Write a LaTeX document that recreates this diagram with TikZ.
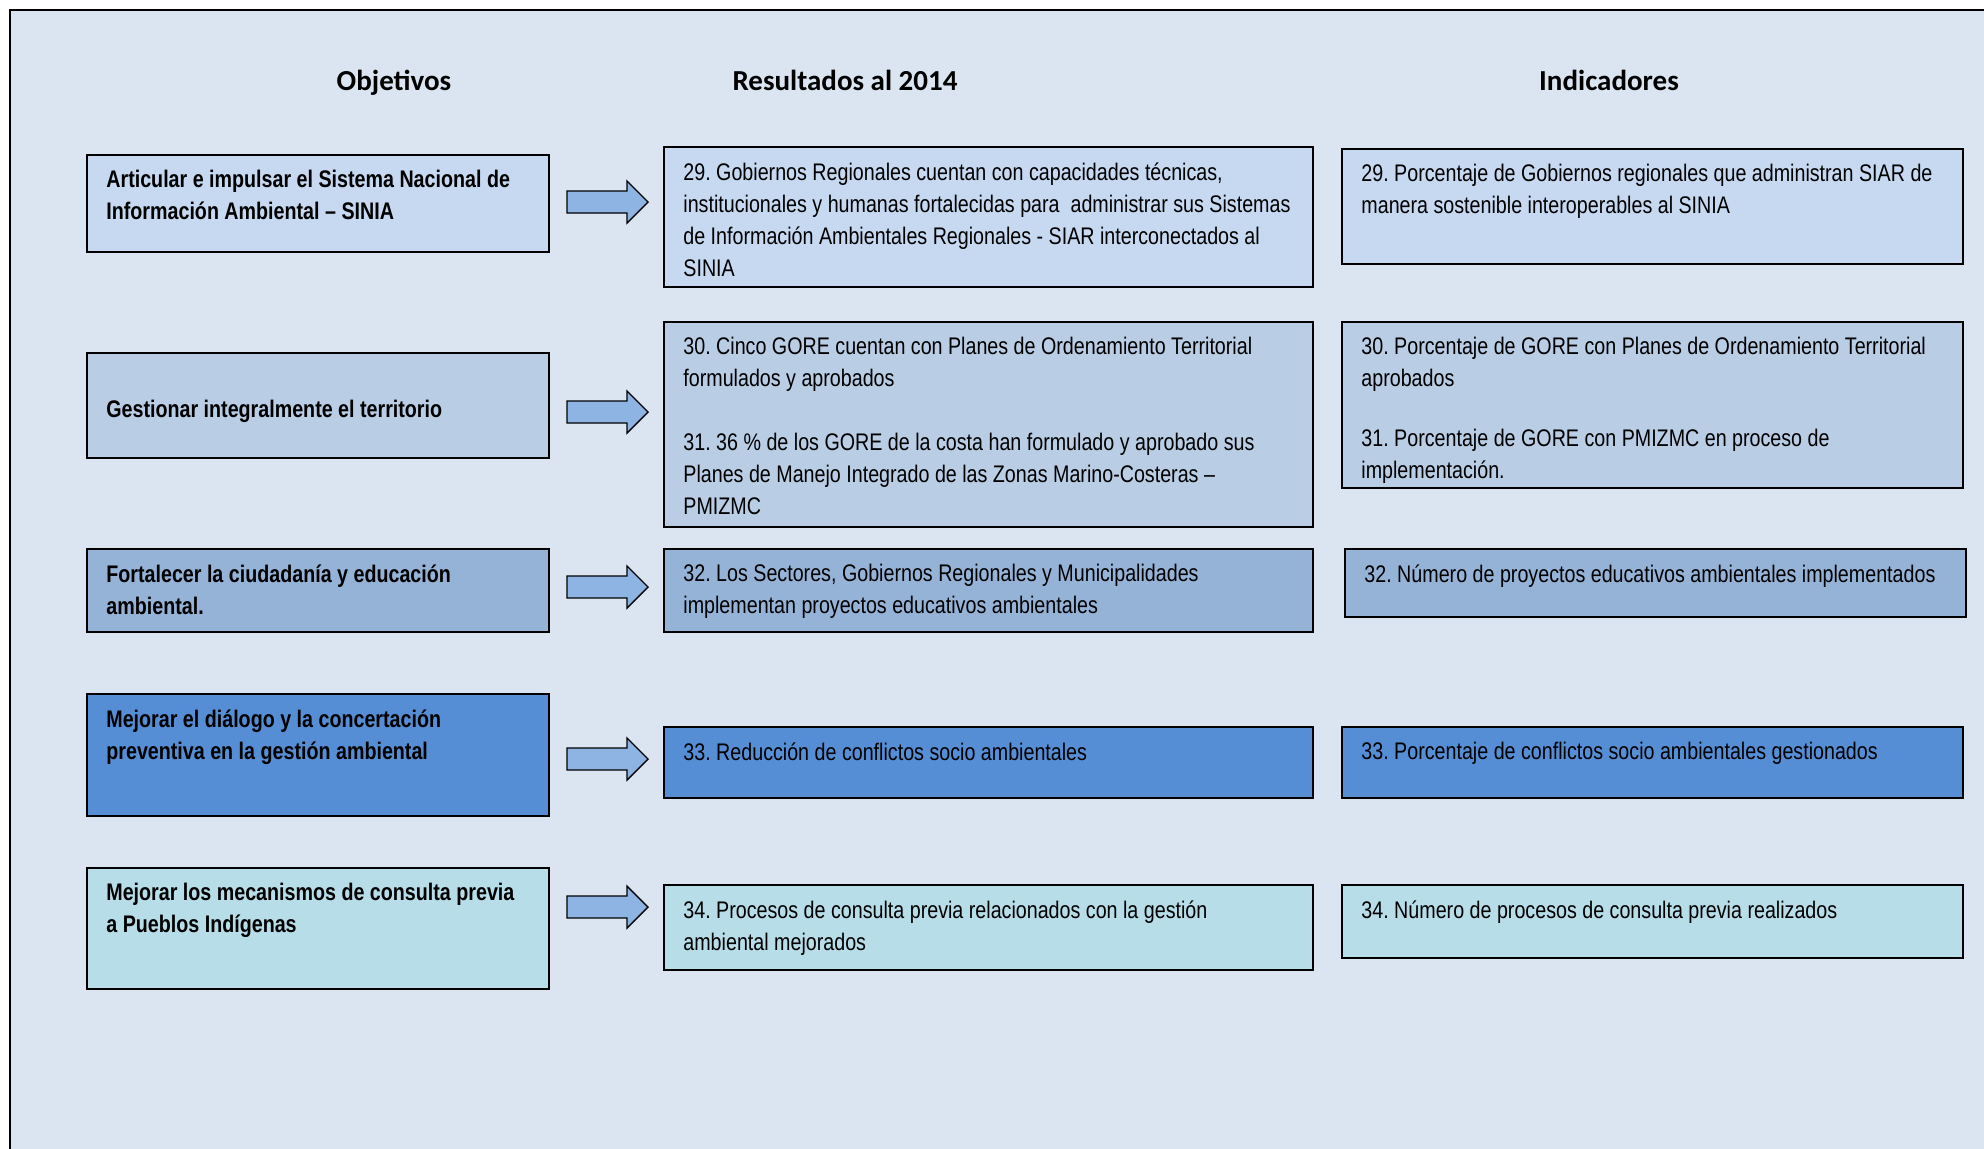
\documentclass[tikz,border=0pt]{standalone}
\usepackage{fontspec}
\setmainfont{Liberation Sans}[FakeStretch=0.82]
\newfontfamily\headfont{Carlito}
\usepackage{tikz}
\frenchspacing
\definecolor{PageBlue}{HTML}{DBE5F1}
\definecolor{RowA}{HTML}{C6D9F1}
\definecolor{RowB}{HTML}{B9CDE5}
\definecolor{RowC}{HTML}{95B3D7}
\definecolor{RowD}{HTML}{558ED5}
\definecolor{RowE}{HTML}{B7DDE8}
\definecolor{ArrowBlue}{HTML}{8EB4E3}

\tikzset{
  box/.style={draw, line width=1pt, anchor=north west, inner sep=0pt},
  boxtext/.style={anchor=north west, inner sep=0pt, align=left, font=\fontsize{12}{16}\selectfont},
  boldtext/.style={boxtext, font=\bfseries\fontsize{12}{16}\selectfont},
  colhead/.style={anchor=base, font=\headfont\bfseries\fontsize{14.5}{17}\selectfont},
  bigarrow/.style={draw, line width=0.7pt, fill=ArrowBlue, line join=miter}
}

\begin{document}
\begin{tikzpicture}[x=0.5pt, y=-0.5pt]
  \useasboundingbox (0,0) rectangle (1984,1148);
  \clip (0,0) rectangle (1984,1148);
  \draw[line width=1pt, fill=PageBlue] (10,10) rectangle (2010,1170);

  % column headers
  \node[colhead] (hobj) at (394,90) {Objetivos};
  \node[colhead] (hres) at (845,90) {Resultados al 2014};
  \node[colhead] (hind) at (1609,90) {Indicadores};

  % boxes: name/x/y/width/height/colour
  \foreach \name/\x/\y/\w/\h/\col in {
    o1/86/154/231/48.5/RowA, o2/86/352/231/52.5/RowB, o3/86/548/231/41.5/RowC,
    o4/86/693/231/61/RowD, o5/86/867/231/60.5/RowE,
    r1/663/146/324.5/70/RowA, r2/663/321/324.5/102.5/RowB, r3/663/548/324.5/41.5/RowC,
    r4/663/726/324.5/35.5/RowD, r5/663/884/324.5/42.5/RowE,
    i1/1341/148/310.5/57.5/RowA, i2/1341/321/310.5/83/RowB, i3/1344/548/310.5/34/RowC,
    i4/1341/726/310.5/35.5/RowD, i5/1341/884/310.5/36.5/RowE%
  }{
    \node[box, fill=\col, minimum width=\w pt, minimum height=\h pt] (\name) at (\x,\y) {};
  }

  % block arrows between objetivos and resultados
  \foreach \y in {202, 412, 587, 759, 907} {
    \draw[bigarrow] (567,\y-11) -- (627,\y-11) -- (627,\y-21) -- (648,\y)
      -- (627,\y+21) -- (627,\y+11) -- (567,\y+11) -- cycle;
  }

  % objetivos
  \node[boldtext] (o1t) at ([shift={(20,16)}]o1.north west) {Articular e impulsar el Sistema Nacional de\\Información Ambiental – SINIA};
  \node[boldtext, anchor=west] (o2t) at ([shift={(20,6)}]o2.west) {Gestionar integralmente el territorio};
  \node[boldtext] (o3t) at ([shift={(20,16)}]o3.north west) {Fortalecer la ciudadanía y educación\\ambiental.};
  \node[boldtext] (o4t) at ([shift={(20,16)}]o4.north west) {Mejorar el diálogo y la concertación\\preventiva en la gestión ambiental};
  \node[boldtext] (o5t) at ([shift={(20,16)}]o5.north west) {Mejorar los mecanismos de consulta previa\\a Pueblos Indígenas};

  % resultados
  \node[boxtext] (r1t) at ([shift={(20,16)}]r1.north west) {29. Gobiernos Regionales cuentan con capacidades técnicas,\\institucionales y humanas fortalecidas para \ administrar sus Sistemas\\de Información Ambientales Regionales - SIAR interconectados al\\SINIA};
  \node[boxtext] (r2t) at ([shift={(20,16)}]r2.north west) {30. Cinco GORE cuentan con Planes de Ordenamiento Territorial\\formulados y aprobados\\[16pt]31. 36 \% de los GORE de la costa han formulado y aprobado sus\\Planes de Manejo Integrado de las Zonas Marino-Costeras –\\PMIZMC};
  \node[boxtext] (r3t) at ([shift={(20,16)}]r3.north west) {32. Los Sectores, Gobiernos Regionales y Municipalidades\\implementan proyectos educativos ambientales};
  \node[boxtext] (r4t) at ([shift={(20,16)}]r4.north west) {33. Reducción de conflictos socio ambientales};
  \node[boxtext] (r5t) at ([shift={(20,16)}]r5.north west) {34. Procesos de consulta previa relacionados con la gestión\\ambiental mejorados};

  % indicadores
  \node[boxtext] (i1t) at ([shift={(20,16)}]i1.north west) {29. Porcentaje de Gobiernos regionales que administran SIAR de\\manera sostenible interoperables al SINIA};
  \begin{scope}
    \clip (i2.north west) rectangle (i2.south east);
    \node[boxtext] (i2t) at ([shift={(20,16)}]i2.north west) {30. Porcentaje de GORE con Planes de Ordenamiento Territorial\\aprobados\\[14pt]31. Porcentaje de GORE con PMIZMC en proceso de\\implementación.};
  \end{scope}
  \node[boxtext] (i3t) at ([shift={(20,16)}]i3.north west) {32. Número de proyectos educativos ambientales implementados};
  \node[boxtext] (i4t) at ([shift={(20,16)}]i4.north west) {33. Porcentaje de conflictos socio ambientales gestionados};
  \node[boxtext] (i5t) at ([shift={(20,16)}]i5.north west) {34. Número de procesos de consulta previa realizados};
\end{tikzpicture}
\end{document}
